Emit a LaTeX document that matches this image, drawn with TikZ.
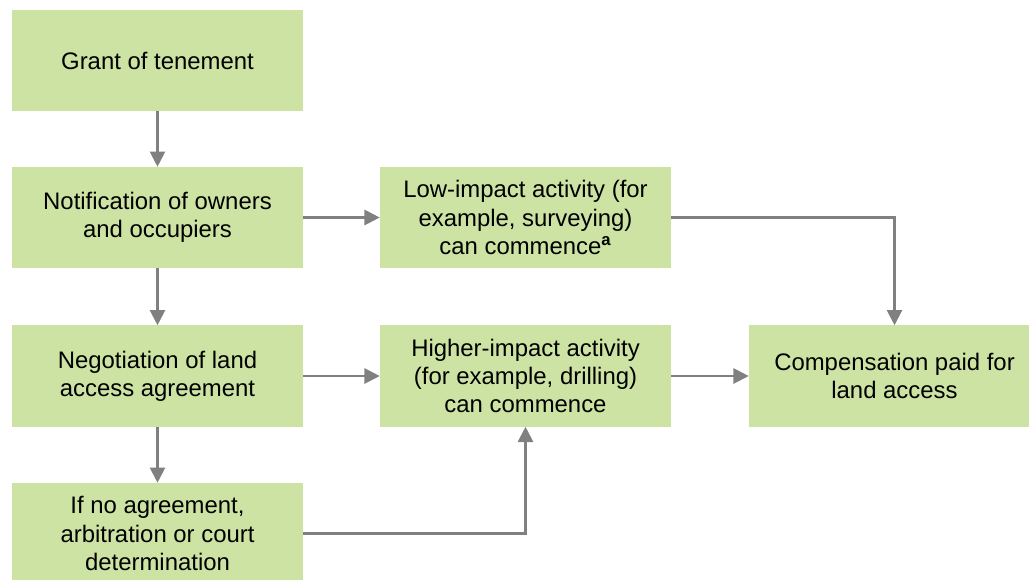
\documentclass[tikz,border=0pt]{standalone}
\usepackage{fontspec}
\setmainfont{Liberation Sans}
\usepackage{tikz}
\usetikzlibrary{arrows.meta}
\definecolor{boxgreen}{RGB}{205,227,164}
\definecolor{linegray}{RGB}{128,128,128}

\begin{document}
\begin{tikzpicture}[x=0.025cm,y=-0.025cm,
    box/.style={fill=boxgreen,minimum width=7.275cm,minimum height=2.525cm,
        align=center,inner sep=0pt,font=\fontsize{17}{20}\selectfont},
    arr/.style={draw=linegray,line width=1.5pt,-{Triangle[length=0.38cm,width=0.38cm]}}]
    % 画布范围
    \useasboundingbox (0,0) rectangle (1029,579);
    \clip (0,0) rectangle (1029,579);

    % 绘制方框
    \node[box] (grant) at (157.5,60.5) {Grant of tenement};
    \node[box] (notify) at (157.5,217.5) {Notification of owners\\and occupiers};
    \node[box] (low) at (525.5,217.5) {Low-impact activity (for\\example, surveying)\\can commence\textsuperscript{\textbf{a}}};
    \node[box] (negot) at (157.5,376) {Negotiation of land\\access agreement};
    \node[box] (higher) at (525.5,376) {Higher-impact activity\\(for example, drilling)\\can commence};
    \node[box] (comp) at (894.5,376) {Compensation paid for\\land access};
    \node[box] (arb) at (157.5,533.5) {If no agreement,\\arbitration or court\\determination};

    % 绘制箭头
    \draw[arr] (grant) -- (notify);
    \draw[arr] (notify) -- (negot);
    \draw[arr] (negot) -- (arb);
    \draw[arr] (notify) -- (low);
    \draw[arr] (negot) -- (higher);
    \draw[arr] (higher) -- (comp);
    \draw[arr] (low) -| (comp);
    \draw[arr] (arb) -| (higher);
\end{tikzpicture}
\end{document}
